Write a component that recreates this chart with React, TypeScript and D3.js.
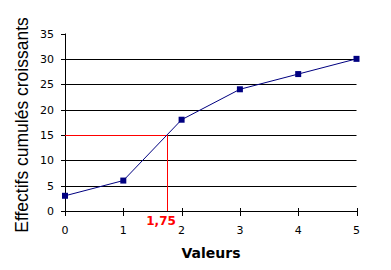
import React from "react";
import * as d3 from "d3";

const xValues = [0, 1, 2, 3, 4, 5];
const yValues = [3, 6, 18, 24, 27, 30];
const xTicks = [0, 1, 2, 3, 4, 5];
const yTicks = [0, 5, 10, 15, 20, 25, 30, 35];
const medianX = 1.75;
const medianY = 15;
const medianLabel = "1,75";
const xTitle = "Valeurs";
const yTitle = "Effectifs cumulés croissants";

export default function App() {
  const W = 391, H = 270;
  const x = d3.scaleLinear().domain([0, 5]).range([65, 356.5]);
  const y = d3.scaleLinear().domain([0, 35]).range([211, 33.5]);
  const pts = xValues.map((v, i) => [v, yValues[i]] as [number, number]);
  const line = d3.line<[number, number]>().x(d => x(d[0])).y(d => y(d[1]));
  const font = "'DejaVu Sans', Verdana, sans-serif";
  return (
    <svg width={W} height={H} style={{ position: "absolute", left: 0, top: 0, background: "#fff" }}>
      <rect x={0} y={0} width={W} height={H} fill="#fff" />
      {yTicks.filter(t => t > 0 && t < 35).map(t => (
        <line key={"g" + t} x1={x(0)} x2={x(5)} y1={Math.round(y(t)) + 0.5} y2={Math.round(y(t)) + 0.5} stroke="#000" strokeWidth={1} />
      ))}
      {/* y axis */}
      <line x1={x(0) + 0.5} x2={x(0) + 0.5} y1={y(35)} y2={y(0)} stroke="#000" />
      {yTicks.map(t => (
        <g key={"yt" + t}>
          <line x1={x(0) - 4} x2={x(0)} y1={Math.round(y(t)) + 0.5} y2={Math.round(y(t)) + 0.5} stroke="#000" />
          <text x={54} y={y(t) + 4} textAnchor="end" fontFamily={font} fontSize={11} fill="#000">{t}</text>
        </g>
      ))}
      {/* x axis */}
      <line x1={x(0)} x2={x(5) + 1} y1={Math.round(y(0)) + 0.5} y2={Math.round(y(0)) + 0.5} stroke="#000" />
      {xTicks.map(t => (
        <g key={"xt" + t}>
          <line x1={Math.round(x(t)) + 0.5} x2={Math.round(x(t)) + 0.5} y1={y(0) - 3} y2={y(0) + 5} stroke="#000" />
          <text x={x(t)} y={234} textAnchor="middle" fontFamily={font} fontSize={11} fill="#000">{t}</text>
        </g>
      ))}
      {/* median lines */}
      <line x1={x(0)} x2={x(medianX)} y1={Math.round(y(medianY)) + 0.5} y2={Math.round(y(medianY)) + 0.5} stroke="#ff0000" strokeWidth={1} shapeRendering="crispEdges" />
      <line x1={Math.round(x(medianX)) + 0.5} x2={Math.round(x(medianX)) + 0.5} y1={y(medianY)} y2={y(0)} stroke="#ff0000" strokeWidth={1} shapeRendering="crispEdges" />
      <path d={line(pts) || ""} fill="none" stroke="#000080" strokeWidth={1} />
      {pts.map((p, i) => (
        <rect key={"m" + i} x={x(p[0]) - 3} y={y(p[1]) - 3} width={6} height={6} fill="#000080" />
      ))}
      <text x={x(medianX) - 6} y={225} textAnchor="middle" fontFamily={font} fontSize={12} fontWeight="bold" fill="#ff0000">{medianLabel}</text>
      <text x={211} y={258} textAnchor="middle" fontFamily={font} fontSize={14} fontWeight="bold" fill="#000">{xTitle}</text>
      <text transform={`translate(28,125) rotate(-90)`} textAnchor="middle" fontFamily="'Liberation Sans', Arial, sans-serif" fontSize={17.5} fill="#000">{yTitle}</text>
    </svg>
  );
}
